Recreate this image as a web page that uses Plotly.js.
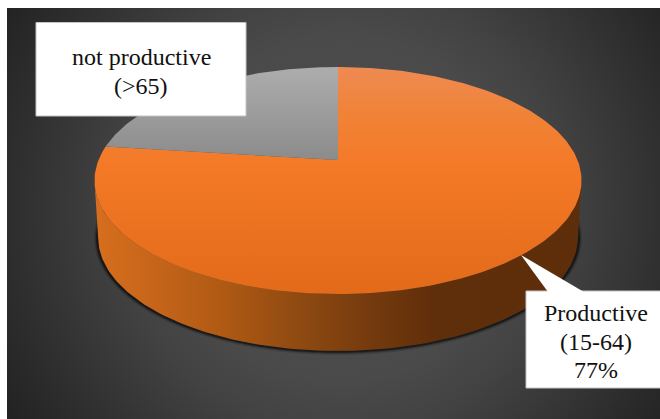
<!DOCTYPE html>
<html>
<head>
<meta charset="utf-8">
<script src="https://cdn.plot.ly/plotly-3.0.1.min.js"></script>
<style>
  html, body { margin: 0; padding: 0; background: #ffffff; }
  #backdrop {
    position: absolute; left: 7px; top: 8px; width: 653px; height: 411px;
    background: radial-gradient(circle 390px at 335px 200px,
      #4f4f4f 0%, #4a4a4a 44%, #424242 58%, #2d2d2d 86%, #232323 100%);
  }
  #chart { position: absolute; left: 0; top: 0; width: 660px; height: 419px; }
</style>
</head>
<body>
<div id="backdrop"></div>
<div id="chart"></div>
<script>
// Population shares by age group
const categories = ['Productive (15-64)', 'not productive (>65)'];
const shares = [77, 23];
const productiveLabel = ['Productive', '(15-64)', '77%'];
const elderlyLabel = ['not productive', '(>65)'];

// Tilted disc: apex position, radii and foreshortening of the far side
const apexX = 338, apexY = 160, radiusX = 239.5, radiusY = 109.8, tilt = 0.1806;
const depth = 57, lowerScale = 0.985;

// Project a clockwise-from-top angle (degrees) onto the tilted disc
function rim(deg, dy = 0, scale = 1) {
  const r = deg * Math.PI / 180, u = Math.sin(r), v = Math.cos(r);
  const d = 1 + tilt * v;
  return [apexX + scale * radiusX * u / d, apexY + dy - radiusY * v / d];
}
function arc(from, to, dy, scale) {
  const pts = [];
  const n = Math.ceil(Math.abs(to - from));
  for (let i = 0; i <= n; i++) pts.push(rim(from + (to - from) * i / n, dy, scale));
  return pts;
}
function sliceTrace(from, to, stops, name) {
  const pts = [[apexX, apexY]].concat(arc(from, to, 0, 1));
  pts.push([apexX, apexY]);
  return {
    type: 'scatter', mode: 'lines', name,
    x: pts.map(p => p[0]), y: pts.map(p => p[1]),
    fill: 'toself', line: { width: 0 }, hoverinfo: 'skip',
    fillgradient: { type: 'vertical', colorscale: stops, start: 67, stop: 294 }
  };
}

const productiveSweep = 360 * shares[0] / (shares[0] + shares[1]);

// Widest points of the rim sit a little behind the quarter angles
const leftEdge = 270 - 10.4, rightEdge = 90 + 10.4;

const lowerFront = arc(leftEdge, rightEdge, depth, lowerScale);
const upperFront = arc(rightEdge, leftEdge, 0, 1);
const wallPts = lowerFront.concat(upperFront);

// Soft contact shadow hugging the lower rim
const shadowArc = arc(leftEdge + 14, rightEdge - 14, depth + 0.5, lowerScale + 0.003);
const shadowTraces = [[7, 0.12], [4.5, 0.22], [2.5, 0.45]].map(([w, a]) => ({
  type: 'scatter', mode: 'lines', hoverinfo: 'skip',
  x: shadowArc.map(p => p[0]), y: shadowArc.map(p => p[1]),
  line: { width: w, color: `rgba(0,0,0,${a})`, shape: 'spline' }
}));

const wall = {
  type: 'scatter', mode: 'lines', name: 'side wall', hoverinfo: 'skip',
  x: wallPts.map(p => p[0]), y: wallPts.map(p => p[1]),
  fill: 'toself', line: { width: 0 },
  fillgradient: {
    type: 'horizontal', start: 94, stop: 581,
    colorscale: [[0, '#d66f1d'], [0.12, '#c7651a'], [0.26, '#b05a14'], [0.42, '#8f4a11'],
                 [0.56, '#763b0e'], [0.7, '#5f2e0a'], [1, '#5e2e0b']]
  }
};

const orangeStops = [[0, '#ee8a52'], [0.2, '#f08338'], [0.42, '#f47a28'], [1, '#e36a18']];
const greyStops = [[0, '#adadad'], [0.41, '#8b8b8b'], [1, '#8b8b8b']];

const traces = shadowTraces.concat([
  wall,
  sliceTrace(0, productiveSweep, orangeStops, categories[0]),
  sliceTrace(productiveSweep, 360, greyStops, categories[1])
]);

function boxShape(x0, y0, x1, y1) {
  return { type: 'rect', layer: 'above', xref: 'x', yref: 'y', x0, y0, x1, y1,
           fillcolor: '#ffffff', line: { color: '#c4c4c4', width: 1 } };
}
function lineNotes(lines, cx, centres) {
  return lines.map((text, i) => ({
    text, x: cx, y: centres[i], xref: 'x', yref: 'y',
    showarrow: false, xanchor: 'center', yanchor: 'middle',
    font: { family: '"Liberation Serif", "Times New Roman", serif', size: 24, color: '#111111' }
  }));
}

const layout = {
  width: 660, height: 419,
  margin: { l: 0, r: 0, t: 0, b: 0 },
  paper_bgcolor: 'rgba(0,0,0,0)', plot_bgcolor: 'rgba(0,0,0,0)',
  showlegend: false,
  xaxis: { range: [0, 660], visible: false, fixedrange: true },
  yaxis: { range: [419, 0], visible: false, fixedrange: true },
  shapes: [
    boxShape(36, 22.5, 246, 116),
    boxShape(526, 291, 661, 388),
    { type: 'path', layer: 'above', xref: 'x', yref: 'y',
      path: 'M 521 255 L 548 292 L 584 292 Z', fillcolor: '#ffffff', line: { width: 0 } }
  ],
  annotations: lineNotes(elderlyLabel, 141, [57, 86])
    .concat(lineNotes(productiveLabel, 596, [313, 342, 370]))
};

Plotly.newPlot('chart', traces, layout, { staticPlot: true, displayModeBar: false });
</script>
</body>
</html>
